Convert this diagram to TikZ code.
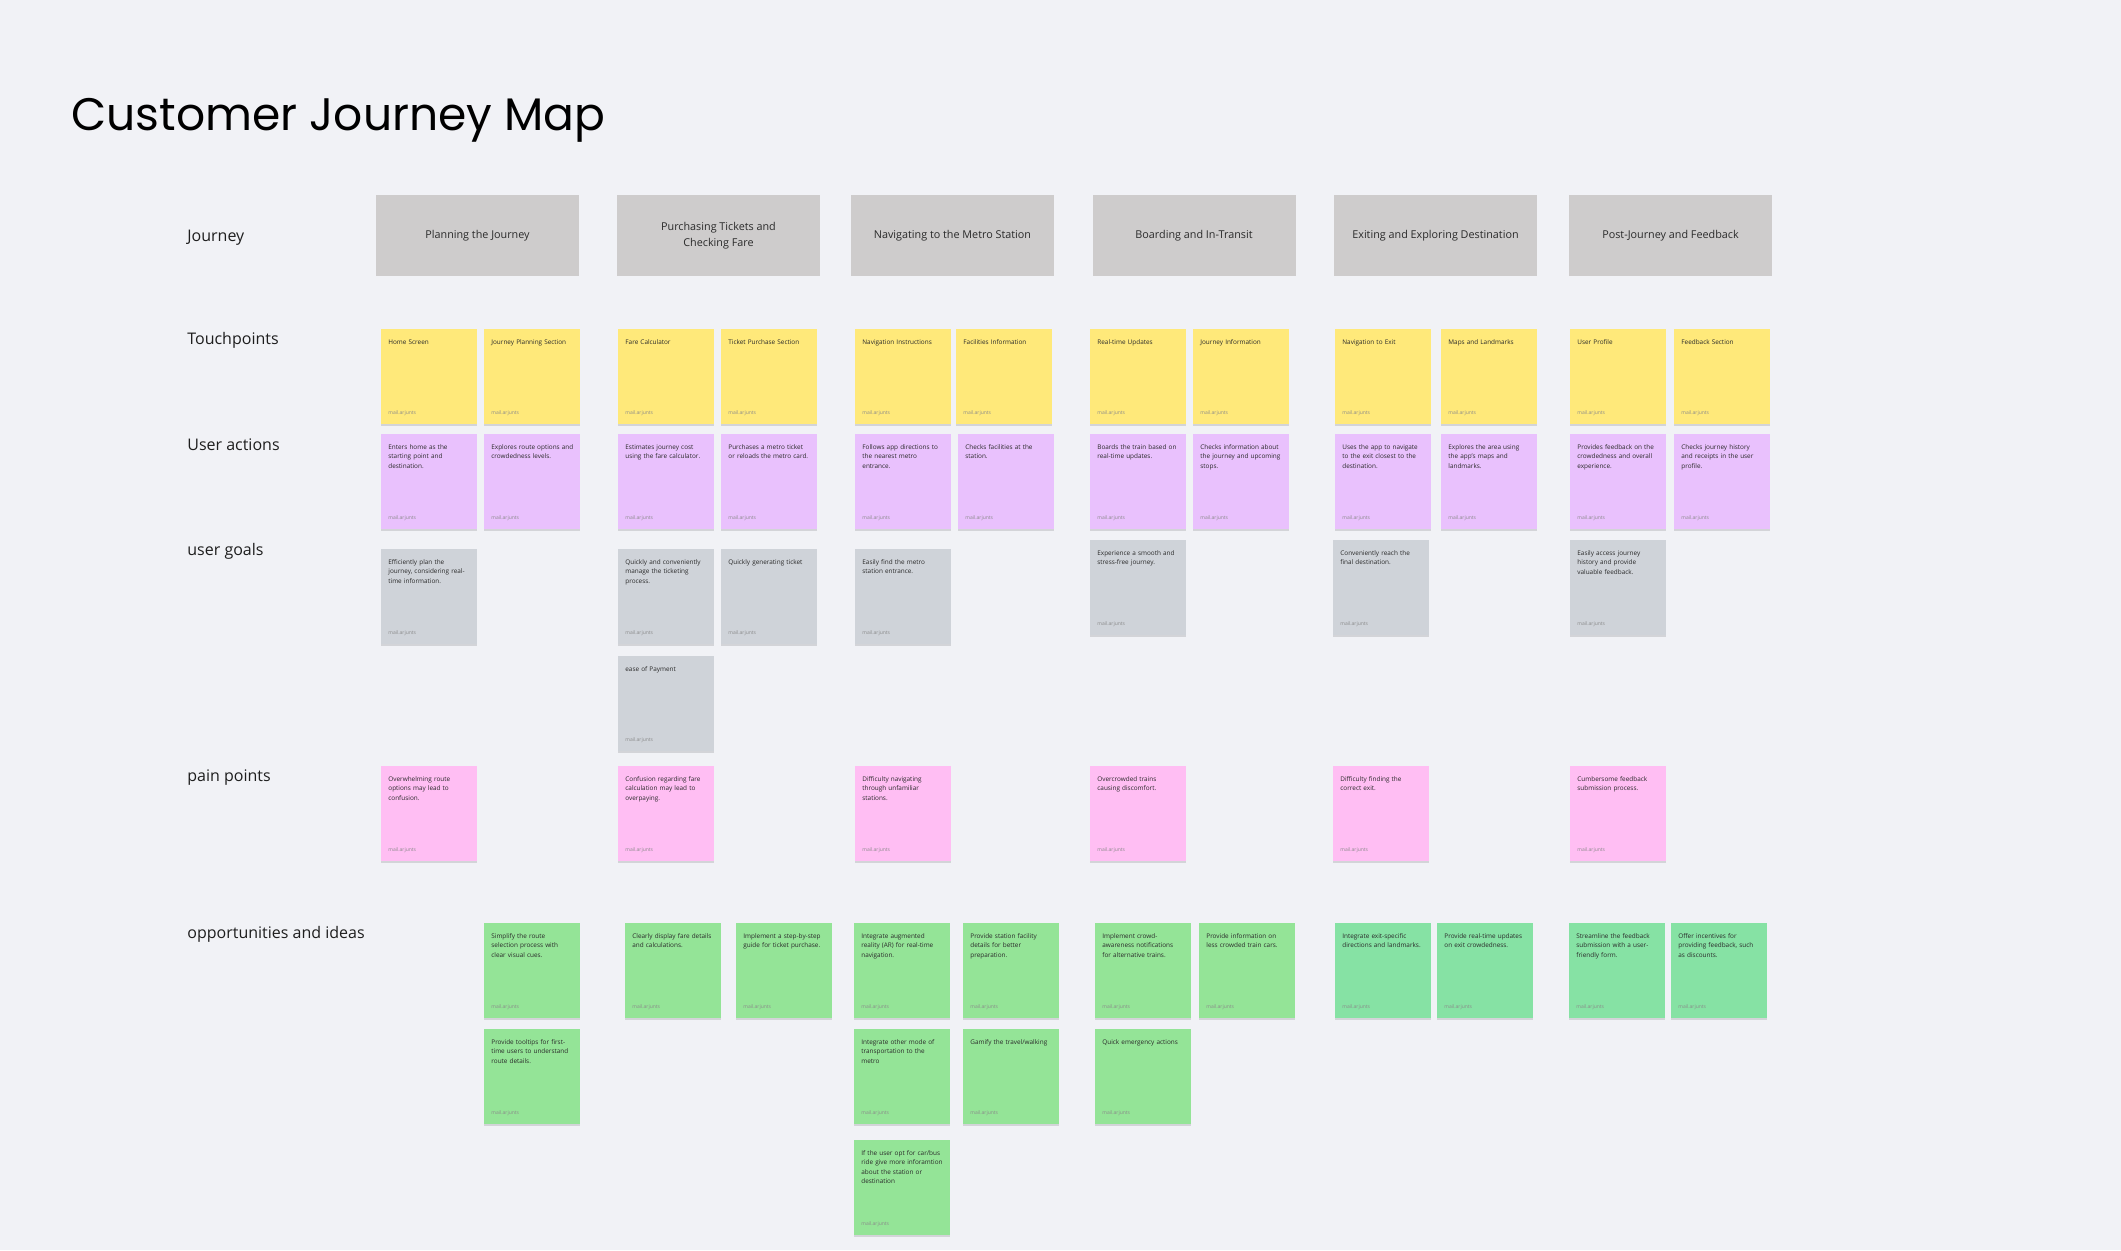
\documentclass[tikz,border=0pt]{standalone}
\usepackage{fontspec}
\setmainfont{Open Sans}
\newfontfamily\titlefont{Poppins}
\usepackage{xcolor}
\usepackage{tikz}
\usetikzlibrary{positioning, shadows}
\definecolor{cjbg}{HTML}{F1F2F6}
\definecolor{cjink}{HTML}{1E1E1E}
\definecolor{cjtext}{HTML}{2A2A2A}
\definecolor{cjmuted}{HTML}{8A8A8A}
\definecolor{cjhead}{HTML}{CECCCC}
\definecolor{cjyellow}{HTML}{FFE97A}
\definecolor{cjpurple}{HTML}{E9C1FD}
\definecolor{cjgoal}{HTML}{CFD3D9}
\definecolor{cjpink}{HTML}{FFBEF3}
\definecolor{cjgreen}{HTML}{94E497}
\definecolor{cjmint}{HTML}{86E2A4}
\hyphenpenalty=10000
\exhyphenpenalty=10000

\begin{document}
\begin{tikzpicture}[
  x=0.5pt, y=-0.5pt,
  hdr/.style={rectangle, fill=cjhead, minimum width=101.5pt, minimum height=40.5pt, align=center, text=cjtext, font=\fontsize{5.4pt}{8pt}\selectfont, inner sep=0pt},
  rowlbl/.style={anchor=west, text=cjink, font=\fontsize{8pt}{9.6pt}\selectfont, text height=1.5ex, text depth=.25ex, inner sep=0pt},
  foot/.style={anchor=base west, xshift=3.5pt, yshift=5pt, inner sep=0pt, text=cjmuted, font=\fontsize{2.5pt}{3pt}\selectfont},
  sticky/.style={rectangle, anchor=north west, fill=#1, text=cjtext, inner xsep=3.5pt, inner ysep=4pt, text width=41pt, text height=3.5pt, text depth=36pt, align=left, font=\fontsize{3.2pt}{4.75pt}\selectfont, drop shadow={shadow xshift=0pt, shadow yshift=-0.7pt, opacity=0.12, fill=black}, label={[foot]south west:mail.arjunts}},
  touch/.style={sticky=cjyellow},
  act/.style={sticky=cjpurple},
  goal/.style={sticky=cjgoal},
  pain/.style={sticky=cjpink},
  idea/.style={sticky=cjgreen},
  ideam/.style={sticky=cjmint}
]
  \fill[cjbg] (0,0) rectangle (2121,1250);

  \node[anchor=base west, inner sep=0pt, text=black, font=\titlefont\fontsize{22.8pt}{27pt}\selectfont] (title) at (71,130) {Customer Journey Map};

  \node[rowlbl] (lbljourney) at (187,235) {Journey};
  \node[rowlbl] (lbltouch) at (187,338) {Touchpoints};
  \node[rowlbl] (lblact) at (187,444) {User actions};
  \node[rowlbl] (lblgoal) at (187,549) {user goals};
  \node[rowlbl] (lblpain) at (187,775) {pain points};
  \node[rowlbl] (lblidea) at (187,932) {opportunities and ideas};

  \node[hdr] (plan) at (477.5,235.5) {Planning the Journey};
  \node[hdr] (purchase) at (718.5,235.5) {Purchasing Tickets and\\Checking Fare};
  \node[hdr] (navigate) at (952.5,235.5) {Navigating to the Metro Station};
  \node[hdr] (board) at (1194,235.5) {Boarding and In-Transit};
  \node[hdr] (exit) at (1435.5,235.5) {Exiting and Exploring Destination};
  \node[hdr] (post) at (1670.5,235.5) {Post-Journey and Feedback};

  \node[touch] (tp1a) at (381,329) {Home Screen};
  \node[touch] (tp1b) at (484,329) {Journey Planning Section};
  \node[touch] (tp2a) at (618,329) {Fare Calculator};
  \node[touch] (tp2b) at (721,329) {Ticket Purchase Section};
  \node[touch] (tp3a) at (855,329) {Navigation Instructions};
  \node[touch] (tp3b) at (956,329) {Facilities Information};
  \node[touch] (tp4a) at (1090,329) {Real-time Updates};
  \node[touch] (tp4b) at (1193,329) {Journey Information};
  \node[touch] (tp5a) at (1335,329) {Navigation to Exit};
  \node[touch] (tp5b) at (1441,329) {Maps and Landmarks};
  \node[touch] (tp6a) at (1570,329) {User Profile};
  \node[touch] (tp6b) at (1674,329) {Feedback Section};

  \node[act] (ua1a) at (381,434) {Enters home as the\\starting point and\\destination.};
  \node[act] (ua1b) at (484,434) {Explores route options and\\crowdedness levels.};
  \node[act] (ua2a) at (618,434) {Estimates journey cost\\using the fare calculator.};
  \node[act] (ua2b) at (721,434) {Purchases a metro ticket\\or reloads the metro card.};
  \node[act] (ua3a) at (855,434) {Follows app directions to\\the nearest metro\\entrance.};
  \node[act] (ua3b) at (958,434) {Checks facilities at the\\station.};
  \node[act] (ua4a) at (1090,434) {Boards the train based on\\real-time updates.};
  \node[act] (ua4b) at (1193,434) {Checks information about\\the journey and upcoming\\stops.};
  \node[act] (ua5a) at (1335,434) {Uses the app to navigate\\to the exit closest to the\\destination.};
  \node[act] (ua5b) at (1441,434) {Explores the area using\\the app's maps and\\landmarks.};
  \node[act] (ua6a) at (1570,434) {Provides feedback on the\\crowdedness and overall\\experience.};
  \node[act] (ua6b) at (1674,434) {Checks journey history\\and receipts in the user\\profile.};

  \node[goal] (ug1a) at (381,549) {Efficiently plan the\\journey, considering real-\\time information.};
  \node[goal] (ug2a) at (618,549) {Quickly and conveniently\\manage the ticketing\\process.};
  \node[goal] (ug2b) at (721,549) {Quickly generating ticket};
  \node[goal] (ug2c) at (618,656) {ease of Payment};
  \node[goal] (ug3a) at (855,549) {Easily find the metro\\station entrance.};
  \node[goal] (ug4a) at (1090,540) {Experience a smooth and\\stress-free journey.};
  \node[goal] (ug5a) at (1333,540) {Conveniently reach the\\final destination.};
  \node[goal] (ug6a) at (1570,540) {Easily access journey\\history and provide\\valuable feedback.};

  \node[pain] (pp1a) at (381,766) {Overwhelming route\\options may lead to\\confusion.};
  \node[pain] (pp2a) at (618,766) {Confusion regarding fare\\calculation may lead to\\overpaying.};
  \node[pain] (pp3a) at (855,766) {Difficulty navigating\\through unfamiliar\\stations.};
  \node[pain] (pp4a) at (1090,766) {Overcrowded trains\\causing discomfort.};
  \node[pain] (pp5a) at (1333,766) {Difficulty finding the\\correct exit.};
  \node[pain] (pp6a) at (1570,766) {Cumbersome feedback\\submission process.};

  \node[idea] (oi1a) at (484,923) {Simplify the route\\selection process with\\clear visual cues.};
  \node[idea] (oi1b) at (484,1029) {Provide tooltips for first-\\time users to understand\\route details.};
  \node[idea] (oi2a) at (625,923) {Clearly display fare details\\and calculations.};
  \node[idea] (oi2b) at (736,923) {Implement a step-by-step\\guide for ticket purchase.};
  \node[idea] (oi3a) at (854,923) {Integrate augmented\\reality (AR) for real-time\\navigation.};
  \node[idea] (oi3b) at (963,923) {Provide station facility\\details for better\\preparation.};
  \node[idea] (oi3c) at (854,1029) {Integrate other mode of\\transportation to the\\metro};
  \node[idea] (oi3d) at (963,1029) {Gamify the travel/walking};
  \node[idea] (oi3e) at (854,1140) {If the user opt for car/bus\\ride give more inforamtion\\about the station or\\destination};
  \node[idea] (oi4a) at (1095,923) {Implement crowd-\\awareness notifications\\for alternative trains.};
  \node[idea] (oi4b) at (1199,923) {Provide information on\\less crowded train cars.};
  \node[idea] (oi4c) at (1095,1029) {Quick emergency actions};
  \node[ideam] (oi5a) at (1335,923) {Integrate exit-specific\\directions and landmarks.};
  \node[ideam] (oi5b) at (1437,923) {Provide real-time updates\\on exit crowdedness.};
  \node[ideam] (oi6a) at (1569,923) {Streamline the feedback\\submission with a user-\\friendly form.};
  \node[ideam] (oi6b) at (1671,923) {Offer incentives for\\providing feedback, such\\as discounts.};
\end{tikzpicture}
\end{document}
